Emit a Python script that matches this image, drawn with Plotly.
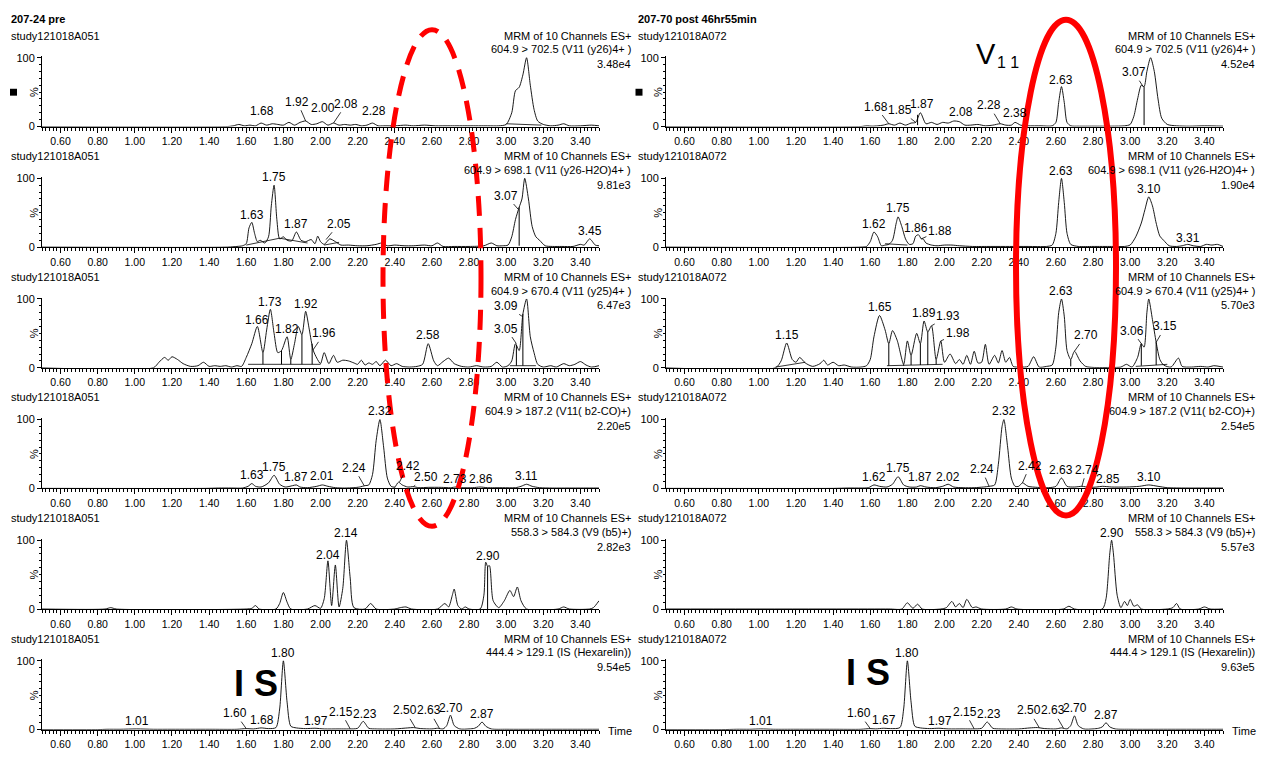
import plotly.graph_objects as go

W, H = 1261, 758
FONT = "Liberation Sans Narrow, Arial Narrow, Liberation Sans, Arial, sans-serif"

# ------------------------------------------------------------------ data
TITLES = ["207-24 pre", "207-70 post 46hr55min"]
SAMPLES = ["study121018A051", "study121018A072"]
HEADER = "MRM of 10 Channels ES+"
TRANSITIONS = [
    "604.9 > 702.5 (V11 (y26)4+ )",
    "604.9 > 698.1 (V11 (y26-H2O)4+ )",
    "604.9 > 670.4 (V11 (y25)4+ )",
    "604.9 > 187.2 (V11( b2-CO)+)",
    "558.3 > 584.3 (V9 (b5)+)",
    "444.4 > 129.1 (IS (Hexarelin))",
]
INTENS_L = ["3.48e4", "9.81e3", "6.47e3", "2.20e5", "2.82e3", "9.54e5"]
INTENS_R = ["4.52e4", "1.90e4", "5.70e3", "2.54e5", "5.57e3", "9.63e5"]
X_TICKS = [0.60, 0.80, 1.00, 1.20, 1.40, 1.60, 1.80, 2.00, 2.20, 2.40, 2.60, 2.80, 3.00, 3.20, 3.40]

# ---- left column (207-24 pre) ----
T_L1 = [0.50, 1.50, 1.53, 1.56, 1.59, 1.62, 1.65, 1.68, 1.71, 1.74, 1.77, 1.80, 1.83, 1.86, 1.89, 1.92, 1.95, 1.98, 2.01, 2.04, 2.07, 2.10, 2.13, 2.16, 2.19, 2.22, 2.25, 2.28, 2.31, 2.34, 2.40, 2.46, 2.50, 2.56, 2.62, 2.70, 2.80, 2.90, 2.96, 3.00, 3.03, 3.05, 3.07, 3.09, 3.11, 3.13, 3.15, 3.17, 3.20, 3.24, 3.28, 3.31, 3.34, 3.40, 3.46, 3.50]
Y_L1 = [0, 0, 1, 3, 1, 2, 1, 5, 2, 4, 3, 2, 6, 2, 6, 8, 3, 4, 7, 2, 5, 2, 3, 2, 3, 1, 2, 5, 1, 1, 1, 2, 1, 2, 1, 1, 1, 1, 1, 3, 20, 52, 57, 75, 100, 60, 25, 8, 3, 1, 2, 4, 1, 1, 2, 1]

T_L2 = [0.50, 1.50, 1.55, 1.58, 1.60, 1.615, 1.63, 1.645, 1.66, 1.675, 1.70, 1.72, 1.735, 1.75, 1.765, 1.78, 1.80, 1.82, 1.845, 1.87, 1.895, 1.92, 1.95, 1.97, 1.985, 2.00, 2.02, 2.05, 2.08, 2.11, 2.15, 2.20, 2.25, 2.30, 2.33, 2.36, 2.40, 2.45, 2.50, 2.56, 2.60, 2.63, 2.66, 2.72, 2.80, 2.88, 2.92, 2.95, 2.98, 3.01, 3.03, 3.05, 3.07, 3.085, 3.10, 3.12, 3.14, 3.16, 3.18, 3.21, 3.25, 3.30, 3.36, 3.40, 3.42, 3.45, 3.48, 3.50]
Y_L2 = [0, 0, 1, 2, 5, 28, 36, 20, 8, 10, 6, 15, 60, 90, 40, 12, 15, 10, 9, 22, 10, 8, 11, 5, 16, 8, 4, 12, 8, 3, 3, 2, 2, 4, 6, 2, 3, 2, 2, 3, 2, 6, 1, 1, 1, 2, 6, 2, 2, 3, 15, 40, 58, 70, 100, 70, 30, 15, 10, 2, 1, 1, 1, 4, 3, 12, 3, 2]

T_L3 = [0.50, 1.10, 1.13, 1.16, 1.18, 1.20, 1.23, 1.26, 1.30, 1.34, 1.37, 1.40, 1.43, 1.46, 1.49, 1.52, 1.55, 1.575, 1.60, 1.63, 1.66, 1.69, 1.71, 1.73, 1.75, 1.77, 1.79, 1.82, 1.84, 1.86, 1.88, 1.90, 1.92, 1.94, 1.96, 1.98, 2.00, 2.02, 2.045, 2.07, 2.09, 2.12, 2.15, 2.18, 2.20, 2.22, 2.24, 2.26, 2.28, 2.30, 2.32, 2.35, 2.38, 2.41, 2.44, 2.48, 2.52, 2.55, 2.58, 2.61, 2.63, 2.66, 2.69, 2.72, 2.76, 2.80, 2.84, 2.88, 2.92, 2.95, 2.98, 3.01, 3.03, 3.05, 3.07, 3.09, 3.11, 3.13, 3.15, 3.17, 3.20, 3.24, 3.27, 3.31, 3.34, 3.37, 3.40, 3.43, 3.46, 3.50]
Y_L3 = [0, 0, 8, 15, 11, 16, 12, 6, 2, 3, 8, 2, 3, 2, 3, 1, 3, 2, 15, 35, 60, 22, 55, 85, 50, 22, 25, 45, 12, 35, 60, 48, 82, 55, 26, 14, 6, 22, 6, 18, 8, 11, 10, 7, 5, 11, 4, 7, 5, 9, 3, 11, 3, 6, 2, 1, 2, 5, 35, 10, 3, 9, 14, 6, 2, 1, 3, 1, 2, 8, 1, 3, 10, 35, 25, 78, 100, 45, 22, 5, 1, 3, 1, 6, 3, 5, 9, 4, 1, 3]

T_L4 = [0.50, 1.38, 1.45, 1.52, 1.58, 1.61, 1.63, 1.65, 1.68, 1.72, 1.75, 1.78, 1.81, 1.85, 1.87, 1.89, 1.93, 1.98, 2.01, 2.04, 2.08, 2.13, 2.18, 2.21, 2.24, 2.26, 2.28, 2.30, 2.32, 2.34, 2.36, 2.38, 2.40, 2.42, 2.44, 2.47, 2.50, 2.53, 2.58, 2.65, 2.70, 2.73, 2.76, 2.82, 2.86, 2.90, 2.98, 3.05, 3.08, 3.11, 3.14, 3.18, 3.25, 3.35, 3.45, 3.50]
Y_L4 = [0, 0, 0.5, 0.5, 0.5, 3, 7, 3, 2, 8, 19, 6, 2, 4, 5, 2, 1, 3, 5, 3, 1, 0.5, 1, 2, 4, 5, 20, 70, 100, 60, 15, 3, 2, 9, 5, 2, 2.5, 1, 1.5, 1.5, 1, 2, 1, 1, 2, 1, 1, 1, 3, 6, 3, 1, 0.5, 0.5, 0.5, 0.5]

T_L5 = [0.50, 0.84, 0.87, 0.90, 1.60, 1.63, 1.65, 1.67, 1.76, 1.78, 1.80, 1.82, 1.84, 1.93, 1.97, 2.00, 2.02, 2.04, 2.06, 2.08, 2.10, 2.12, 2.14, 2.16, 2.18, 2.24, 2.27, 2.30, 2.40, 2.43, 2.46, 2.49, 2.63, 2.67, 2.69, 2.71, 2.72, 2.74, 2.76, 2.78, 2.80, 2.86, 2.88, 2.89, 2.90, 2.91, 2.93, 2.96, 2.99, 3.02, 3.04, 3.06, 3.08, 3.11, 3.28, 3.31, 3.34, 3.45, 3.47, 3.50]
Y_L5 = [0, 0, 2, 0, 0, 1, 5, 0, 0, 8, 24, 10, 0, 0, 5, 1, 15, 70, 5, 64, 3, 30, 100, 45, 2, 0, 8, 0, 0, 2, 3, 0, 0, 8, 3, 20, 29, 5, 0, 3, 0, 0, 20, 68, 62, 63, 12, 2, 12, 27, 18, 32, 12, 0, 0, 3, 0, 0, 2, 12]

T_L6 = [0.50, 0.80, 0.85, 0.92, 1.01, 1.10, 1.20, 1.40, 1.55, 1.60, 1.64, 1.68, 1.72, 1.76, 1.78, 1.80, 1.82, 1.84, 1.87, 1.92, 1.97, 2.02, 2.10, 2.15, 2.20, 2.23, 2.26, 2.30, 2.40, 2.47, 2.50, 2.54, 2.60, 2.63, 2.66, 2.68, 2.70, 2.72, 2.75, 2.80, 2.83, 2.85, 2.87, 2.89, 2.92, 3.00, 3.20, 3.40, 3.50]
Y_L6 = [0, 0, 0.5, 0.5, 1, 0.5, 0.5, 0.5, 0.5, 1.5, 1, 2.5, 1.5, 3, 30, 100, 40, 5, 2.5, 1.5, 2, 1, 1, 1, 2, 12, 2, 1, 1, 2.5, 3, 1.5, 1, 2, 1, 6, 21, 6, 1, 1, 2, 5, 11, 5, 1, 0.5, 0.5, 0.5, 0.5]

# ---- right column (207-70 post 46hr55min) ----
T_R1 = [0.50, 1.55, 1.58, 1.61, 1.64, 1.67, 1.70, 1.73, 1.76, 1.79, 1.82, 1.845, 1.87, 1.90, 1.93, 1.96, 1.99, 2.02, 2.05, 2.08, 2.11, 2.14, 2.18, 2.22, 2.26, 2.30, 2.33, 2.36, 2.38, 2.41, 2.45, 2.52, 2.58, 2.60, 2.615, 2.63, 2.645, 2.66, 2.68, 2.72, 2.80, 2.90, 2.97, 3.00, 3.02, 3.04, 3.06, 3.075, 3.09, 3.11, 3.13, 3.15, 3.17, 3.20, 3.25, 3.32, 3.40, 3.50]
Y_R1 = [0, 0, 1, 0.5, 1, 2, 4, 2, 5, 2, 5, 6, 20, 4, 6, 3, 6, 5, 8, 7, 2, 2, 3, 1, 2, 4, 2, 2, 6, 2, 1, 1, 1, 6, 35, 58, 35, 6, 1, 0.5, 0.5, 0.5, 1, 3, 15, 40, 60, 58, 80, 100, 80, 40, 12, 3, 1, 0.5, 1, 0.5]

T_R2 = [0.50, 1.55, 1.58, 1.60, 1.62, 1.64, 1.66, 1.68, 1.70, 1.72, 1.74, 1.75, 1.77, 1.79, 1.81, 1.83, 1.845, 1.86, 1.875, 1.885, 1.90, 1.93, 1.96, 2.00, 2.04, 2.08, 2.15, 2.25, 2.35, 2.45, 2.55, 2.58, 2.60, 2.615, 2.63, 2.645, 2.66, 2.68, 2.72, 2.80, 2.90, 2.97, 3.00, 3.03, 3.06, 3.08, 3.10, 3.12, 3.14, 3.16, 3.18, 3.21, 3.25, 3.28, 3.31, 3.34, 3.38, 3.41, 3.44, 3.47, 3.50]
Y_R2 = [0, 0, 1, 8, 22, 15, 2, 3, 4, 10, 35, 44, 30, 12, 4, 5, 16, 18, 12, 12, 6, 3, 2, 3, 3, 2, 1, 1, 1, 1, 1, 3, 20, 65, 100, 65, 20, 4, 1, 1, 1, 1, 3, 15, 35, 55, 73, 60, 35, 16, 10, 2, 1, 2, 4, 2, 1, 4, 3, 4, 1]

T_R3 = [0.50, 1.09, 1.12, 1.15, 1.18, 1.20, 1.22, 1.25, 1.29, 1.33, 1.35, 1.37, 1.40, 1.43, 1.46, 1.50, 1.55, 1.58, 1.60, 1.62, 1.65, 1.68, 1.70, 1.72, 1.745, 1.78, 1.80, 1.82, 1.85, 1.87, 1.89, 1.91, 1.93, 1.955, 1.98, 2.00, 2.03, 2.06, 2.08, 2.10, 2.12, 2.14, 2.16, 2.18, 2.20, 2.22, 2.24, 2.27, 2.29, 2.31, 2.33, 2.35, 2.37, 2.41, 2.45, 2.48, 2.51, 2.55, 2.58, 2.60, 2.615, 2.63, 2.645, 2.66, 2.68, 2.70, 2.73, 2.76, 2.80, 2.90, 2.95, 2.98, 3.01, 3.04, 3.06, 3.075, 3.09, 3.10, 3.12, 3.14, 3.16, 3.18, 3.22, 3.26, 3.28, 3.33, 3.38, 3.42, 3.45, 3.50]
Y_R3 = [0, 0, 10, 36, 12, 8, 15, 7, 2, 6, 11, 4, 8, 3, 4, 1, 1, 3, 12, 45, 76, 55, 35, 54, 40, 5, 39, 18, 50, 35, 68, 52, 61, 12, 39, 8, 20, 6, 12, 5, 18, 5, 24, 7, 8, 34, 5, 18, 7, 25, 8, 15, 2, 1, 2, 16, 1, 2, 4, 30, 80, 100, 75, 25, 12, 24, 10, 2, 0.5, 0.5, 1, 5, 1, 15, 35, 30, 80, 100, 70, 37, 12, 4, 1, 14, 2, 1, 2, 1, 3, 1]

T_R4 = [0.50, 1.40, 1.48, 1.55, 1.59, 1.62, 1.65, 1.69, 1.72, 1.75, 1.78, 1.81, 1.85, 1.87, 1.90, 1.95, 1.99, 2.02, 2.05, 2.10, 2.16, 2.21, 2.24, 2.27, 2.29, 2.31, 2.32, 2.34, 2.36, 2.38, 2.40, 2.42, 2.45, 2.50, 2.56, 2.60, 2.63, 2.66, 2.70, 2.74, 2.78, 2.82, 2.85, 2.90, 2.98, 3.05, 3.10, 3.15, 3.20, 3.30, 3.40, 3.50]
Y_R4 = [0, 0, 0.5, 0.5, 1, 5, 3, 2, 6, 17, 5, 2, 2, 4, 2, 1, 3, 6, 2, 1, 1, 2, 3, 5, 35, 90, 100, 60, 15, 3, 3, 8, 3, 1.5, 1, 3, 15, 3, 2, 3, 1.5, 2, 3, 2, 2, 3, 5, 3, 1, 0.5, 0.5, 0.5]

T_R5 = [0.50, 1.70, 1.77, 1.80, 1.83, 1.855, 1.88, 1.98, 2.01, 2.04, 2.06, 2.08, 2.10, 2.12, 2.15, 2.17, 2.20, 2.33, 2.36, 2.39, 2.64, 2.67, 2.70, 2.85, 2.87, 2.89, 2.90, 2.91, 2.93, 2.95, 2.97, 2.985, 3.00, 3.02, 3.04, 3.06, 3.20, 3.23, 3.25, 3.27, 3.37, 3.40, 3.43, 3.50]
Y_R5 = [0, 0, 0, 9, 1, 7, 0, 0, 2, 11, 3, 8, 2, 14, 2, 3, 0, 0, 3, 0, 0, 4, 0, 0, 15, 80, 100, 80, 20, 2, 11, 5, 14, 4, 6, 0, 0, 2, 8, 0, 0, 3, 0, 0]

T_R6 = [0.50, 0.80, 0.88, 0.95, 1.01, 1.08, 1.20, 1.40, 1.55, 1.60, 1.63, 1.67, 1.71, 1.76, 1.78, 1.80, 1.82, 1.84, 1.87, 1.92, 1.97, 2.02, 2.10, 2.15, 2.20, 2.23, 2.26, 2.30, 2.40, 2.46, 2.50, 2.54, 2.60, 2.63, 2.66, 2.68, 2.70, 2.72, 2.75, 2.80, 2.83, 2.85, 2.87, 2.89, 2.92, 3.00, 3.20, 3.40, 3.50]
Y_R6 = [0, 0, 0.5, 0.5, 1, 0.5, 0.5, 0.5, 0.5, 1.5, 1, 2, 1.5, 3, 30, 100, 40, 5, 2.5, 1.5, 2, 1, 1, 1, 2, 11, 2, 1, 1, 2.5, 3, 1.5, 1, 2.5, 1, 6, 20, 6, 1, 1, 2, 4, 10, 4, 1, 0.5, 0.5, 0.5, 0.5]

# peak labels: (text, label_t, label_y) or (text, label_t, label_y, peak_t, peak_y) with leader line
LAB_L1 = [("1.68", 1.685, 22), ("1.92", 1.875, 36, 1.92, 8), ("2.00", 2.015, 27), ("2.08", 2.14, 33, 2.07, 5), ("2.28", 2.29, 22)]
LAB_L2 = [("1.63", 1.63, 47), ("1.75", 1.75, 102), ("1.87", 1.87, 33), ("2.05", 2.10, 34, 2.03, 11), ("3.07", 3.00, 75, 3.065, 55), ("3.45", 3.45, 23)]
LAB_L3 = [("1.66", 1.66, 70), ("1.73", 1.73, 95), ("1.82", 1.82, 56), ("1.92", 1.92, 93), ("1.96", 2.02, 50, 1.96, 26), ("2.58", 2.58, 47), ("3.05", 3.00, 57, 3.055, 35), ("3.09", 3.00, 90, 3.085, 75)]
LAB_L4 = [("1.63", 1.63, 19), ("1.75", 1.75, 31), ("1.87", 1.87, 17), ("2.01", 2.01, 18), ("2.24", 2.18, 30, 2.235, 4), ("2.32", 2.32, 112), ("2.42", 2.47, 32, 2.425, 9), ("2.50", 2.57, 17, 2.50, 2.5), ("2.73", 2.725, 14), ("2.86", 2.865, 14), ("3.11", 3.11, 18)]
LAB_L5 = [("2.04", 2.04, 79), ("2.14", 2.14, 111), ("2.90", 2.90, 77)]
LAB_L6 = [("1.01", 1.01, 12), ("1.60", 1.54, 24, 1.60, 1.5), ("1.68", 1.685, 14), ("1.80", 1.80, 111), ("1.97", 1.975, 13), ("2.15", 2.11, 26, 2.16, 1), ("2.23", 2.24, 23), ("2.50", 2.455, 28, 2.51, 3), ("2.63", 2.585, 28, 2.64, 2), ("2.70", 2.705, 32), ("2.87", 2.87, 22)]
LAB_R1 = [("1.68", 1.63, 29, 1.70, 4), ("1.85", 1.76, 24, 1.845, 6), ("1.87", 1.88, 33), ("2.08", 2.09, 21), ("2.28", 2.24, 31, 2.30, 4), ("2.38", 2.38, 19), ("2.63", 2.63, 68), ("3.07", 3.02, 79, 3.07, 58)]
LAB_R2 = [("1.62", 1.62, 33), ("1.75", 1.75, 57), ("1.86", 1.845, 28), ("1.88", 1.975, 24, 1.875, 12), ("2.63", 2.63, 111), ("3.10", 3.10, 84), ("3.31", 3.31, 14)]
LAB_R3 = [("1.15", 1.15, 48), ("1.65", 1.65, 88), ("1.89", 1.89, 80), ("1.93", 2.02, 75, 1.93, 61), ("1.98", 2.07, 50, 1.98, 39), ("2.63", 2.63, 112), ("2.70", 2.76, 47, 2.70, 24), ("3.06", 3.01, 54, 3.06, 35), ("3.15", 3.19, 60, 3.14, 37)]
LAB_R4 = [("1.62", 1.62, 17), ("1.75", 1.75, 29), ("1.87", 1.87, 16), ("2.02", 2.02, 17), ("2.24", 2.20, 28, 2.24, 3), ("2.32", 2.32, 112), ("2.42", 2.46, 33, 2.42, 8), ("2.63", 2.63, 26), ("2.74", 2.765, 27, 2.74, 3), ("2.85", 2.88, 14, 2.85, 3), ("3.10", 3.10, 17)]
LAB_R5 = [("2.90", 2.90, 111)]
LAB_R6 = [("1.01", 1.01, 12), ("1.60", 1.54, 24, 1.60, 1.5), ("1.67", 1.675, 14), ("1.80", 1.80, 111), ("1.97", 1.975, 13), ("2.15", 2.11, 26, 2.16, 1), ("2.23", 2.24, 22), ("2.50", 2.455, 28, 2.51, 3), ("2.63", 2.585, 28, 2.64, 2.5), ("2.70", 2.705, 31), ("2.87", 2.87, 21)]

# peak drop lines: (t, y_base, y_top)
DROP_L1 = []
DROP_L2 = [(3.07, 2, 58)]
DROP_L3 = [(1.69, 5, 22), (1.79, 5, 25), (1.84, 5, 12), (1.90, 5, 48), (1.955, 5, 35), (3.055, 3, 33), (3.09, 3, 78)]
DROP_L4 = [(2.40, 1, 2)]
DROP_L5 = [(2.90, 0, 62)]
DROP_L6 = []
DROP_R1 = [(1.855, 2, 17), (3.075, 2, 58)]
DROP_R2 = []
DROP_R3 = [(1.70, 3, 35), (1.78, 3, 5), (1.82, 4, 18), (1.87, 4, 35), (1.91, 4, 52), (1.955, 5, 12), (2.68, 2, 12), (3.06, 3, 35), (3.14, 4, 37)]
DROP_R4 = []
DROP_R5 = []
DROP_R6 = []

# integration baselines: (t1, y1, t2, y2)
BASE_L1 = [(3.00, 4, 3.19, 2)]
BASE_L2 = [(1.60, 3, 1.78, 13), (1.78, 13, 1.93, 6), (2.02, 3, 2.10, 7)]
BASE_L3 = [(1.61, 5, 2.00, 5), (3.02, 3, 3.16, 3)]
BASE_L4 = []
BASE_L5 = []
BASE_L6 = []
BASE_R1 = []
BASE_R2 = [(1.68, 5, 1.80, 3)]
BASE_R3 = [(1.09, 1, 1.25, 8), (1.69, 3, 1.99, 5), (3.03, 2, 3.20, 5)]
BASE_R4 = []
BASE_R5 = []
BASE_R6 = []

PANELS_L = [(T_L1, Y_L1, LAB_L1, DROP_L1, BASE_L1), (T_L2, Y_L2, LAB_L2, DROP_L2, BASE_L2),
            (T_L3, Y_L3, LAB_L3, DROP_L3, BASE_L3), (T_L4, Y_L4, LAB_L4, DROP_L4, BASE_L4),
            (T_L5, Y_L5, LAB_L5, DROP_L5, BASE_L5), (T_L6, Y_L6, LAB_L6, DROP_L6, BASE_L6)]
PANELS_R = [(T_R1, Y_R1, LAB_R1, DROP_R1, BASE_R1), (T_R2, Y_R2, LAB_R2, DROP_R2, BASE_R2),
            (T_R3, Y_R3, LAB_R3, DROP_R3, BASE_R3), (T_R4, Y_R4, LAB_R4, DROP_R4, BASE_R4),
            (T_R5, Y_R5, LAB_R5, DROP_R5, BASE_R5), (T_R6, Y_R6, LAB_R6, DROP_R6, BASE_R6)]

# ------------------------------------------------------------------ layout geometry (pixels)
X_DOM = [(42, 599), (666, 1223)]
HDR_RIGHT = [633, 1257]
TEXT_LEFT = [9, 636]
ROW0_Y0 = 123.3
PITCH = 122.4
PPU = 0.698
YMAX = 102
LABEL_SIZE = 12
HDR_SIZE = 11


def px(x):
    return x / W


def py(y):
    return 1 - y / H


fig = go.Figure()
annotations = []
shapes = []
layout = {}

for col, panels in enumerate([PANELS_L, PANELS_R]):
    intens = [INTENS_L, INTENS_R][col]
    for r, (T, Y, LAB, DROP, BASE) in enumerate(panels):
        idx = col * 6 + r + 1
        xname = "x" if idx == 1 else f"x{idx}"
        yname = "y" if idx == 1 else f"y{idx}"
        y0 = ROW0_Y0 + PITCH * r
        top = y0 - YMAX * PPU
        layout["xaxis" if idx == 1 else f"xaxis{idx}"] = dict(
            domain=[px(X_DOM[col][0]), px(X_DOM[col][1])], range=[0.5, 3.5], anchor=yname,
            showline=True, linecolor="black", linewidth=1, showgrid=False, zeroline=False,
            tickmode="array", tickvals=X_TICKS, ticktext=[f"{v:.2f}" for v in X_TICKS],
            ticks="outside", ticklen=5, tickwidth=1, tickcolor="black",
            tickfont=dict(family=FONT, size=10.5, color="black"),
            minor=dict(dtick=0.02, tick0=0.5, ticks="outside", ticklen=3, tickwidth=1,
                       tickcolor="black", showgrid=False),
            fixedrange=True,
        )
        layout["yaxis" if idx == 1 else f"yaxis{idx}"] = dict(
            domain=[py(y0), py(top)], range=[0, YMAX], anchor=xname,
            showline=True, linecolor="black", linewidth=1, showgrid=False, zeroline=False,
            tickmode="array", tickvals=[0, 100], ticktext=["0", "100"],
            ticks="outside", ticklen=4, tickwidth=1, tickcolor="black",
            tickfont=dict(family=FONT, size=11, color="black"),
            minor=dict(dtick=10, tick0=0, ticks="outside", ticklen=2, tickwidth=1,
                       tickcolor="black", showgrid=False),
            fixedrange=True,
        )
        fig.add_trace(go.Scatter(
            x=T, y=Y, mode="lines", xaxis=xname, yaxis=yname,
            line=dict(color="black", width=0.9, shape="spline", smoothing=0.7),
            hoverinfo="skip", showlegend=False))
        if DROP:
            dx, dy = [], []
            for t, yb, yt in DROP:
                dx += [t, t, None]
                dy += [yb, yt, None]
            fig.add_trace(go.Scatter(x=dx, y=dy, mode="lines", xaxis=xname, yaxis=yname,
                                     line=dict(color="black", width=1), hoverinfo="skip",
                                     showlegend=False))
        if BASE:
            bx, by = [], []
            for t1, y1, t2, y2 in BASE:
                bx += [t1, t2, None]
                by += [y1, y2, None]
            fig.add_trace(go.Scatter(x=bx, y=by, mode="lines", xaxis=xname, yaxis=yname,
                                     line=dict(color="black", width=0.8), hoverinfo="skip",
                                     showlegend=False))
        for lab in LAB:
            if len(lab) == 3:
                txt, tx, ty = lab
                # keep the anchor inside the axis range; shift labels that sit above it
                ya = min(ty, YMAX)
                annotations.append(dict(x=tx, y=ya, xref=xname, yref=yname, text=txt,
                                        yshift=(ty - ya) * PPU, showarrow=False,
                                        font=dict(family=FONT, size=LABEL_SIZE, color="black")))
            else:
                txt, tx, ty, pxk, pyk = lab
                annotations.append(dict(x=pxk, y=pyk, xref=xname, yref=yname, text=txt,
                                        ax=tx, ay=ty, axref=xname, ayref=yname, showarrow=True,
                                        arrowhead=0, arrowwidth=0.8, arrowcolor="black",
                                        standoff=0, font=dict(family=FONT, size=LABEL_SIZE, color="black")))
        # header texts
        hx = px(HDR_RIGHT[col])
        for text, dyp in [(HEADER, 92.3), (TRANSITIONS[r], 78.3), (intens[r], 63.3)]:
            annotations.append(dict(x=hx, y=py(y0 - dyp), xref="paper", yref="paper", text=text,
                                    xanchor="right", yanchor="middle", showarrow=False,
                                    font=dict(family=FONT, size=HDR_SIZE, color="black")))
        annotations.append(dict(x=px(TEXT_LEFT[col]), y=py(y0 - 92.3), xref="paper", yref="paper",
                                text=SAMPLES[col], xanchor="left", yanchor="middle", showarrow=False,
                                font=dict(family=FONT, size=HDR_SIZE, color="black")))
        annotations.append(dict(x=px(X_DOM[col][0] - 8), y=py(y0 - 34.9), xref="paper", yref="paper",
                                text="%", textangle=-90, xanchor="center", yanchor="middle",
                                showarrow=False, font=dict(family=FONT, size=11, color="black")))
    # title
    annotations.append(dict(x=px(TEXT_LEFT[col]), y=py(14), xref="paper", yref="paper",
                            text=f"<b>{TITLES[col]}</b>", xanchor="left", yanchor="middle",
                            showarrow=False, font=dict(family=FONT, size=11, color="black")))
    # "Time" axis caption on last row
    annotations.append(dict(x=px(X_DOM[col][1] + 7), y=py(ROW0_Y0 + PITCH * 5 + 1), xref="paper",
                            yref="paper", text="Time", xanchor="left", yanchor="middle",
                            showarrow=False, font=dict(family=FONT, size=11, color="black")))
    # small black square marker
    sq = [13.5, 639][col]
    shapes.append(dict(type="rect", xref="paper", yref="paper", x0=px(sq - 3.5), x1=px(sq + 3.5),
                       y0=py(92), y1=py(85), fillcolor="black", line=dict(width=0)))

# big hand-written style captions
annotations.append(dict(x=px(986), y=py(50), xref="paper", yref="paper", text="V",
                        showarrow=False, xanchor="center", yanchor="middle",
                        font=dict(family="Liberation Sans, Arial, sans-serif", size=29, color="black")))
annotations.append(dict(x=px(1008), y=py(58), xref="paper", yref="paper", text="1 1",
                        showarrow=False, xanchor="center", yanchor="middle",
                        font=dict(family="Liberation Sans, Arial, sans-serif", size=16, color="black")))
for cx, cy in [(256, 688), (868, 677)]:
    annotations.append(dict(x=px(cx), y=py(cy), xref="paper", yref="paper", text="<b>I S</b>",
                            showarrow=False, xanchor="center", yanchor="middle",
                            font=dict(family="Liberation Sans, Arial, sans-serif", size=36, color="black")))

# red ellipses
shapes.append(dict(type="circle", xref="paper", yref="paper",
                   x0=px(432 - 49), x1=px(432 + 49), y0=py(277 + 252), y1=py(277 - 252),
                   line=dict(color="red", width=5, dash="20px,12px")))
shapes.append(dict(type="circle", xref="paper", yref="paper",
                   x0=px(1066 - 50), x1=px(1066 + 50), y0=py(266.5 + 251.5), y1=py(266.5 - 251.5),
                   line=dict(color="red", width=6)))

fig.update_layout(
    width=W, height=H, margin=dict(l=0, r=0, t=0, b=0),
    paper_bgcolor="white", plot_bgcolor="white",
    annotations=annotations, shapes=shapes, showlegend=False,
    **layout,
)

fig.write_html("out.html", config={"displayModeBar": False},
               post_script="document.body.style.margin='0';document.body.style.padding='0';")
